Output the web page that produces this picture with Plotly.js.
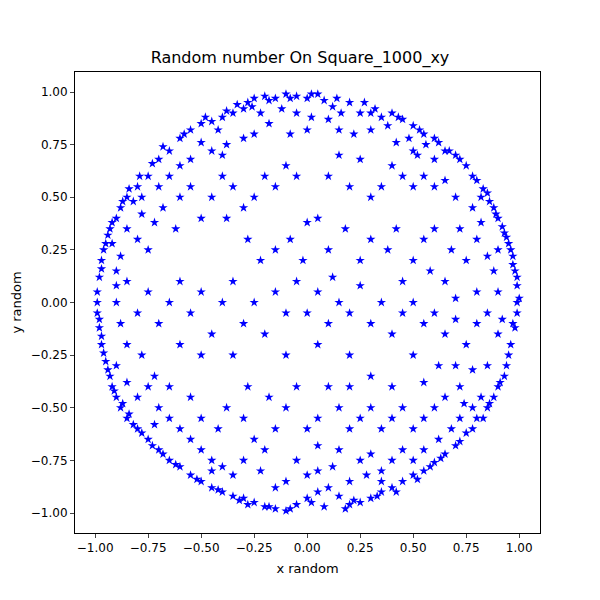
<html>
<head>
<script src="https://cdn.plot.ly/plotly-3.0.1.min.js"></script>
</head>
<body style="margin:0">
<div id="plot" style="width:600px;height:600px"></div>
<script>
// point samples, grouped by region, as [x, y]
var topPts = [[-0.28,0.95],[-0.25,0.97],[-0.2,0.98],[-0.15,0.97],[-0.1,0.99],[-0.05,0.98],[0.0,0.97],[0.05,0.99],[0.08,0.96],[0.12,0.93],[-0.3,0.92],[-0.35,0.9],[-0.4,0.88],[-0.45,0.86],[-0.5,0.85],[-0.55,0.82],[-0.6,0.78],[-0.42,0.82],[-0.22,0.9],[-0.12,0.92],[-0.05,0.9],[0.02,0.88],[0.1,0.87],[0.2,0.95],[0.25,0.9],[0.3,0.9],[0.35,0.88],[0.4,0.9],[0.45,0.87],[0.5,0.84],[0.55,0.8],[0.6,0.78],[0.3,0.82],[0.38,0.84],[0.48,0.78],[0.56,0.75],[0.65,0.72],[0.7,0.7],[0.16,0.9],[-0.65,0.72],[-0.18,0.85],[0.0,0.82],[-0.08,0.8],[0.15,0.82],[0.22,0.8],[-0.3,0.78],[-0.25,0.8],[-0.5,0.76],[-0.45,0.72],[-0.38,0.75],[0.42,0.76],[0.52,0.7],[0.6,0.68]];
var upperLeftPts = [[-0.7,0.68],[-0.75,0.6],[-0.8,0.55],[-0.85,0.5],[-0.88,0.45],[-0.9,0.4],[-0.93,0.35],[-0.95,0.28],[-0.97,0.2],[-0.98,0.12],[-0.99,0.05],[-0.82,0.48],[-0.78,0.5],[-0.7,0.55],[-0.65,0.6],[-0.6,0.65],[-0.55,0.68],[-0.68,0.45],[-0.72,0.38],[-0.85,0.35],[-0.8,0.3],[-0.75,0.25],[-0.88,0.22],[-0.9,0.15],[-0.85,0.1],[-0.6,0.5],[-0.55,0.55],[-0.62,0.35],[-0.5,0.4],[-0.45,0.5],[-0.4,0.6],[-0.35,0.55],[-0.3,0.45],[-0.25,0.5],[-0.2,0.6],[-0.15,0.55],[-0.1,0.65],[-0.05,0.6],[-0.38,0.4],[-0.28,0.3],[-0.22,0.2],[-0.15,0.25],[-0.08,0.3],[0.0,0.38],[0.05,0.4],[-0.02,0.2]];
var upperRightPts = [[0.75,0.65],[0.8,0.58],[0.85,0.52],[0.88,0.45],[0.9,0.4],[0.93,0.33],[0.95,0.28],[0.97,0.22],[0.98,0.15],[0.99,0.08],[1.0,0.02],[0.82,0.5],[0.78,0.45],[0.7,0.5],[0.65,0.58],[0.6,0.55],[0.55,0.6],[0.5,0.55],[0.45,0.6],[0.4,0.65],[0.35,0.55],[0.3,0.5],[0.2,0.55],[0.1,0.6],[0.15,0.7],[0.25,0.68],[0.72,0.35],[0.8,0.3],[0.85,0.22],[0.88,0.15],[0.9,0.05],[0.75,0.2],[0.68,0.25],[0.6,0.35],[0.55,0.3],[0.5,0.2],[0.42,0.35],[0.38,0.25],[0.3,0.3],[0.25,0.2],[0.18,0.35],[0.1,0.25],[0.12,0.12],[0.65,0.1],[0.7,0.02],[0.8,0.05],[0.58,0.15],[0.45,0.1]];
var middlePts = [[-0.99,-0.05],[-0.98,-0.12],[-0.97,-0.2],[-0.95,-0.28],[-0.93,-0.35],[-0.9,0.0],[-0.88,-0.1],[-0.85,-0.2],[-0.8,-0.05],[-0.75,0.05],[-0.7,-0.1],[-0.65,0.0],[-0.6,0.1],[-0.55,-0.05],[-0.5,0.05],[-0.45,-0.15],[-0.4,0.0],[-0.35,0.1],[-0.3,-0.1],[-0.25,0.0],[-0.2,-0.15],[-0.15,0.05],[-0.1,-0.05],[-0.05,0.1],[0.0,-0.05],[0.05,0.05],[0.1,-0.1],[0.15,0.0],[0.2,-0.05],[0.25,0.08],[0.3,-0.1],[0.35,0.0],[0.4,-0.15],[0.45,-0.05],[0.5,0.0],[0.55,-0.1],[0.6,-0.05],[0.65,-0.15],[0.7,-0.08],[0.75,-0.2],[0.8,-0.1],[0.85,-0.05],[0.9,-0.15],[0.95,-0.25],[0.97,-0.1],[0.99,-0.05],[-0.78,-0.25],[-0.6,-0.2],[-0.5,-0.25],[-0.35,-0.25],[-0.1,-0.25],[0.05,-0.2],[0.2,-0.25],[0.5,-0.25],[0.62,-0.3],[0.85,-0.3]];
var lowerLeftPts = [[-0.92,-0.4],[-0.9,-0.45],[-0.88,-0.5],[-0.85,-0.55],[-0.82,-0.58],[-0.78,-0.62],[-0.75,-0.65],[-0.7,-0.7],[-0.65,-0.75],[-0.6,-0.78],[-0.55,-0.82],[-0.5,-0.85],[-0.45,-0.88],[-0.4,-0.9],[-0.35,-0.92],[-0.3,-0.93],[-0.8,-0.45],[-0.75,-0.4],[-0.7,-0.5],[-0.65,-0.55],[-0.6,-0.6],[-0.55,-0.65],[-0.5,-0.7],[-0.45,-0.75],[-0.4,-0.78],[-0.35,-0.82],[-0.72,-0.35],[-0.65,-0.4],[-0.55,-0.45],[-0.5,-0.55],[-0.42,-0.6],[-0.38,-0.5],[-0.3,-0.55],[-0.25,-0.65],[-0.2,-0.7],[-0.15,-0.6],[-0.28,-0.4],[-0.18,-0.45],[-0.1,-0.5],[-0.05,-0.4],[-0.3,-0.75],[-0.22,-0.8]];
var bottomPts = [[-0.25,-0.95],[-0.2,-0.97],[-0.15,-0.98],[-0.1,-0.99],[-0.05,-0.96],[0.0,-0.93],[0.05,-0.9],[0.1,-0.88],[0.15,-0.92],[0.2,-0.96],[0.25,-0.95],[0.3,-0.93],[0.35,-0.9],[0.4,-0.88],[0.45,-0.85],[0.5,-0.82],[0.55,-0.8],[0.6,-0.76],[0.65,-0.72],[0.7,-0.68],[-0.1,-0.85],[0.0,-0.82],[0.05,-0.8],[0.12,-0.78],[0.2,-0.85],[0.28,-0.82],[-0.15,-0.88],[-0.05,-0.75]];
var lowerRightPts = [[0.75,-0.62],[0.8,-0.55],[0.85,-0.5],[0.88,-0.45],[0.9,-0.4],[0.93,-0.35],[0.82,-0.45],[0.78,-0.5],[0.72,-0.55],[0.68,-0.6],[0.62,-0.65],[0.55,-0.7],[0.5,-0.75],[0.45,-0.7],[0.4,-0.75],[0.35,-0.8],[0.3,-0.72],[0.25,-0.75],[0.72,-0.4],[0.65,-0.45],[0.6,-0.5],[0.55,-0.55],[0.5,-0.6],[0.45,-0.5],[0.4,-0.55],[0.35,-0.6],[0.3,-0.5],[0.25,-0.55],[0.2,-0.6],[0.15,-0.5],[0.1,-0.4],[0.05,-0.55],[0.0,-0.6],[0.2,-0.4],[0.3,-0.35],[0.4,-0.4],[0.55,-0.38],[0.7,-0.3],[0.78,-0.32],[0.15,-0.7],[0.05,-0.68]];
var ringPts = [[-0.33,0.94],[-0.48,0.88],[-0.58,0.8],[-0.68,0.74],[-0.73,0.66],[-0.79,0.6],[-0.84,0.54],[-0.87,0.48],[-0.92,0.38],[-0.94,0.32],[-0.96,0.25],[-0.97,0.16],[-0.99,0.0],[-0.98,-0.08],[-0.97,-0.16],[-0.96,-0.24],[-0.94,-0.32],[-0.91,-0.42],[-0.87,-0.48],[-0.84,-0.53],[-0.8,-0.6],[-0.73,-0.68],[-0.68,-0.72],[-0.62,-0.77],[-0.52,-0.84],[-0.42,-0.89],[-0.32,-0.94],[-0.28,-0.96],[-0.18,-0.97],[-0.08,-0.98],[0.02,-0.95],[0.08,-0.97],[0.18,-0.98],[0.22,-0.94],[0.33,-0.92],[0.42,-0.9],[0.52,-0.84],[0.58,-0.78],[0.63,-0.74],[0.72,-0.66],[0.78,-0.6],[0.83,-0.55],[0.86,-0.48],[0.91,-0.38],[0.94,-0.3],[0.96,-0.2],[0.98,-0.12],[0.99,0.0],[0.99,0.12],[0.97,0.18],[0.96,0.25],[0.94,0.31],[0.92,0.36],[0.89,0.42],[0.86,0.48],[0.83,0.54],[0.78,0.6],[0.72,0.68],[0.67,0.72],[0.62,0.76],[0.53,0.82],[0.43,0.88],[0.32,0.92],[0.27,0.95],[0.14,0.97],[0.02,0.99],[-0.08,0.97],[-0.18,0.96],[-0.26,0.93],[-0.38,0.91],[-0.9,-0.3],[-0.85,-0.38],[-0.92,0.28],[-0.9,0.08],[0.92,-0.08],[0.9,0.25],[0.82,0.38],[-0.78,0.42],[-0.72,-0.58],[0.74,-0.48],[0.5,0.72],[-0.4,0.7],[0.35,-0.85],[-0.45,-0.8]];
var tickVals = [-1.0, -0.75, -0.5, -0.25, 0.0, 0.25, 0.5, 0.75, 1.0];

var points = [].concat(topPts, upperLeftPts, upperRightPts, middlePts, lowerLeftPts, bottomPts, lowerRightPts, ringPts);
var trace = {
    x: points.map(function(p) { return p[0]; }),
    y: points.map(function(p) { return p[1]; }),
    mode: 'markers',
    type: 'scatter',
    marker: {symbol: 'star', color: '#0000ff', size: 7, line: {width: 0}}
};

var axis = {
    range: [-1.095, 1.098],
    tickvals: tickVals,
    tickformat: '.2f',
    ticks: 'outside', ticklen: 4,
    showgrid: false, zeroline: false,
    showline: true, mirror: true, linecolor: 'black', linewidth: 1,
    tickfont: {size: 12, color: 'black'}
};
var layout = {
    width: 600, height: 600,
    margin: {l: 75, r: 60, t: 72, b: 67},
    font: {family: 'DejaVu Sans', color: 'black'},
    title: {text: 'Random number On Square_1000_xy', font: {size: 16}, y: 0.905, yanchor: 'middle'},
    xaxis: Object.assign({}, axis, {title: {text: 'x random', font: {size: 13}, standoff: 9}}),
    yaxis: Object.assign({}, axis, {range: [-1.095, 1.095], title: {text: 'y random', font: {size: 13}, standoff: 6}}),
    showlegend: false,
    plot_bgcolor: 'white', paper_bgcolor: 'white'
};
Plotly.newPlot('plot', [trace], layout, {displayModeBar: false});
</script>
</body>
</html>
